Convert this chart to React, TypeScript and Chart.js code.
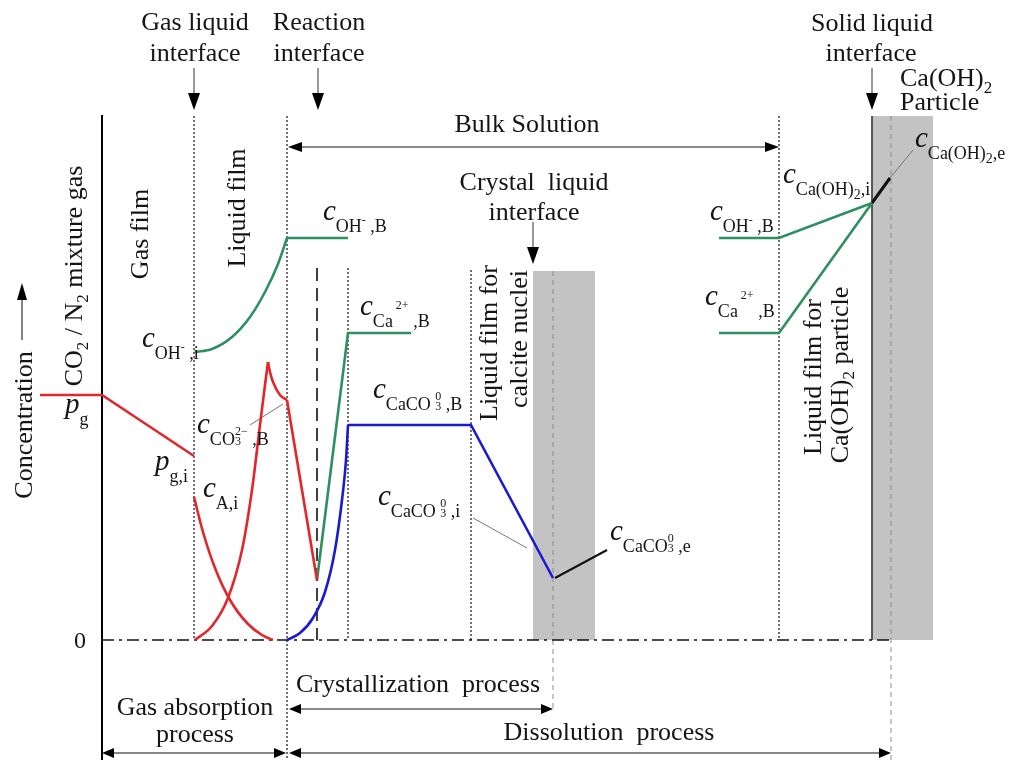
import React, { useEffect, useRef } from 'react';
import { Chart, registerables } from 'chart.js';

Chart.register(...registerables);

const FONT = '"Liberation Serif", "Times New Roman", Times, serif';
const RED = '#e3262b';
const GREEN = '#2f8f60';
const BLUE = '#1a1ad2';
const INK = '#151515';

// x: position across the films (px-like units), y: concentration level above the zero line
const gasPartialPressure = [{ x: 40, y: 245 }, { x: 102, y: 245 }, { x: 194, y: 184 }];
const cAInterface = [{ x: 194, y: 143 }, { x: 203, y: 108 }, { x: 215, y: 72 }, { x: 230, y: 40 }, { x: 248, y: 16 }, { x: 262, y: 5 }, { x: 273, y: 0 }];
const cCO3Rise = [{ x: 195, y: 0 }, { x: 212, y: 14 }, { x: 228, y: 42 }, { x: 242, y: 90 }, { x: 252, y: 150 }, { x: 260, y: 215 }, { x: 265, y: 255 }, { x: 268, y: 278 }];
const cCO3Cusp = [{ x: 268, y: 278 }, { x: 270, y: 268 }, { x: 273, y: 258 }, { x: 280, y: 245 }, { x: 287, y: 240 }];
const cCO3Drop = [{ x: 287, y: 240 }, { x: 317, y: 60 }];

const cOHLiquidFilm = [{ x: 195, y: 288 }, { x: 212, y: 291 }, { x: 232, y: 303 }, { x: 250, y: 323 }, { x: 265, y: 348 }, { x: 278, y: 376 }, { x: 287, y: 402 }];
const cOHBulkLeft = [{ x: 287, y: 402 }, { x: 348, y: 402 }];
const cCaRise = [{ x: 317, y: 60 }, { x: 348, y: 307 }, { x: 411, y: 307 }];
const cOHBulkRight = [{ x: 719, y: 402 }, { x: 779, y: 402 }, { x: 872, y: 437 }];
const cCaBulkRight = [{ x: 719, y: 307 }, { x: 779, y: 307 }, { x: 872, y: 437 }];

const cCaCO3Rise = [{ x: 287, y: 0 }, { x: 300, y: 7 }, { x: 313, y: 22 }, { x: 325, y: 48 }, { x: 335, y: 90 }, { x: 342, y: 140 }, { x: 346, y: 180 }, { x: 348, y: 215 }];
const cCaCO3Bulk = [{ x: 348, y: 215 }, { x: 471, y: 215 }, { x: 553, y: 62 }];

const leaderCaCO3e = [{ x: 555, y: 62 }, { x: 607, y: 90 }];
const leaderCaOH = [{ x: 872, y: 437 }, { x: 890, y: 462 }];
const thinLeaders = [
  [{ x: 890, y: 462 }, { x: 913, y: 490 }],
  [{ x: 473, y: 122 }, { x: 527, y: 92 }],
  [{ x: 250, y: 215 }, { x: 283, y: 236 }],
];

const crystalRect = [{ x: 533, y: 369 }, { x: 595, y: 369 }];
const particleRect = [{ x: 872, y: 524 }, { x: 933, y: 524 }];
const zeroLine = [{ x: 102, y: 0 }, { x: 891, y: 0 }];

const verticals = [
  { x: 102, top: 525, bottom: -120, kind: 'solid' },
  { x: 194, top: 524, bottom: 0, kind: 'dot' },
  { x: 287, top: 524, bottom: -120, kind: 'dot' },
  { x: 317, top: 372, bottom: 0, kind: 'dash' },
  { x: 348, top: 372, bottom: 0, kind: 'dot' },
  { x: 471, top: 370, bottom: 0, kind: 'dot' },
  { x: 779, top: 524, bottom: 0, kind: 'dot' },
  { x: 872, top: 524, bottom: 0, kind: 'thin' },
  { x: 553, top: 369, bottom: -68, kind: 'grey' },
  { x: 891, top: 524, bottom: -120, kind: 'grey' },
];

const arrows = [
  { x1: 194, y1: 572, x2: 194, y2: 530, both: false, len: 17, half: 6, color: '#555' },
  { x1: 318, y1: 572, x2: 318, y2: 530, both: false, len: 17, half: 6, color: '#555' },
  { x1: 872, y1: 572, x2: 872, y2: 530, both: false, len: 17, half: 6, color: '#555' },
  { x1: 533, y1: 418, x2: 533, y2: 376, both: false, len: 17, half: 6, color: '#555' },
  { x1: 22, y1: 300, x2: 22, y2: 357, both: false, len: 17, half: 5, color: '#333' },
  { x1: 288, y1: 493, x2: 779, y2: 493, both: true, len: 14, half: 5, color: '#111' },
  { x1: 289, y1: -69, x2: 553, y2: -69, both: true, len: 12, half: 5, color: '#111' },
  { x1: 102, y1: -113, x2: 286, y2: -113, both: true, len: 12, half: 5, color: '#111' },
  { x1: 289, y1: -113, x2: 891, y2: -113, both: true, len: 12, half: 5, color: '#111' },
];

type Run = { t: string; size: number; italic?: boolean; dy: number; top?: string; dyTop?: number };
const N = (t: string, size = 26): Run => ({ t, size, dy: 0 });
const L = (t: string): Run => ({ t, size: 17, dy: 6 });
const C = (t = 'c'): Run => ({ t, size: 29, italic: true, dy: 0 });
const S = (t: string): Run => ({ t, size: 18, dy: 12 });
const U = (t: string, dy: number): Run => ({ t, size: 12, dy });
const K = (top: string, bot: string): Run => ({ t: bot, top, size: 12, dy: 12, dyTop: 2 });
const SS = (t: string): Run => ({ t, size: 14, dy: 16 });

const titleTexts = [
  { x: 195, y: 610, runs: [N('Gas liquid')] },
  { x: 195, y: 579, runs: [N('interface')] },
  { x: 319, y: 610, runs: [N('Reaction')] },
  { x: 319, y: 579, runs: [N('interface')] },
  { x: 872, y: 609, runs: [N('Solid liquid')] },
  { x: 871, y: 579, runs: [N('interface')] },
  { x: 527, y: 508, runs: [N('Bulk Solution')] },
  { x: 534, y: 450, runs: [N('Crystal  liquid')] },
  { x: 534, y: 420, runs: [N('interface')] },
  { x: 418, y: -52, runs: [N('Crystallization  process')] },
  { x: 195, y: -75, runs: [N('Gas absorption')] },
  { x: 195, y: -102, runs: [N('process')] },
  { x: 609, y: -100, runs: [N('Dissolution  process')] },
  { x: 80, y: -8, runs: [N('0', 24)] },
];
const leftTexts = [
  { x: 900, y: 554, runs: [N('Ca(OH)'), { t: '2', size: 17, dy: 7 }] },
  { x: 900, y: 530, runs: [N('Particle')] },
  { x: 142, y: 293, runs: [C(), S('OH'), U('-', 4), S(' ,i')] },
  { x: 323, y: 420, runs: [C(), S('OH'), U('-', 4), S(' ,B')] },
  { x: 360, y: 325, runs: [C(), S('Ca'), U(' 2+', -6), S(' ,B')] },
  { x: 373, y: 242, runs: [C(), S('CaCO '), K('0', '3'), S(' ,B')] },
  { x: 197, y: 207, runs: [C(), S('CO'), K('2−', '3'), S(' ,B')] },
  { x: 65, y: 227, runs: [C('p'), S('g')] },
  { x: 155, y: 170, runs: [C('p'), S('g,i')] },
  { x: 203, y: 143, runs: [C(), S('A,i')] },
  { x: 378, y: 135, runs: [C(), S('CaCO '), K('0', '3'), S(' ,i')] },
  { x: 610, y: 100, runs: [C(), S('CaCO'), K('0', '3'), S(' ,e')] },
  { x: 710, y: 420, runs: [C(), S('OH'), U('-', 4), S(' ,B')] },
  { x: 705, y: 335, runs: [C(), S('Ca'), U(' 2+', -6), S(' ,B')] },
  { x: 783, y: 457, runs: [C(), S('Ca(OH)'), SS('2'), S(',i')] },
  { x: 915, y: 493, runs: [C(), S('Ca(OH)'), SS('2'), S(',e')] },
];
// rotated labels: x = baseline position, y = centre along the text
const rotatedTexts = [
  { x: 32, y: 215, runs: [N('Concentration')] },
  { x: 82, y: 364, runs: [N('CO'), L('2'), N(' / N'), L('2'), N(' mixture gas')] },
  { x: 148, y: 406, runs: [N('Gas film')] },
  { x: 245, y: 432, runs: [N('Liquid film')] },
  { x: 497, y: 297, runs: [N('Liquid film for')] },
  { x: 527, y: 301, runs: [N('calcite nuclei')] },
  { x: 821, y: 263, runs: [N('Liquid film for')] },
  { x: 848, y: 265, runs: [N('Ca(OH)'), L('2'), N(' particle')] },
];

const fontOf = (r: Run, size?: number) => `${r.italic ? 'italic ' : ''}${size ?? r.size}px ${FONT}`;

function runsWidth(ctx: CanvasRenderingContext2D, runs: Run[]) {
  let w = 0;
  for (const r of runs) {
    ctx.font = fontOf(r);
    let rw = ctx.measureText(r.t).width;
    if (r.top) rw = Math.max(rw, ctx.measureText(r.top).width);
    w += rw;
  }
  return w;
}

function drawRuns(ctx: CanvasRenderingContext2D, runs: Run[], x: number, y: number, align: 'left' | 'center') {
  let cx = align === 'center' ? x - runsWidth(ctx, runs) / 2 : x;
  ctx.textAlign = 'left';
  ctx.textBaseline = 'alphabetic';
  for (const r of runs) {
    ctx.font = fontOf(r);
    let rw = ctx.measureText(r.t).width;
    ctx.fillText(r.t, cx, y + r.dy);
    if (r.top) {
      rw = Math.max(rw, ctx.measureText(r.top).width);
      ctx.fillText(r.top, cx, y + (r.dyTop ?? 0));
    }
    cx += rw;
  }
}

function head(ctx: CanvasRenderingContext2D, tx: number, ty: number, dx: number, dy: number, len: number, half: number) {
  ctx.beginPath();
  ctx.moveTo(tx, ty);
  ctx.lineTo(tx - dx * len - dy * half, ty - dy * len + dx * half);
  ctx.lineTo(tx - dx * len + dy * half, ty - dy * len - dx * half);
  ctx.closePath();
  ctx.fill();
}

const overlay = {
  id: 'overlay',
  afterDatasetsDraw(chart: any) {
    const ctx: CanvasRenderingContext2D = chart.ctx;
    const xs = chart.scales.x;
    const ys = chart.scales.y;
    const px = (v: number) => xs.getPixelForValue(v);
    const py = (v: number) => ys.getPixelForValue(v);
    ctx.save();
    for (const a of arrows) {
      const x1 = px(a.x1), y1 = py(a.y1), x2 = px(a.x2), y2 = py(a.y2);
      const d = Math.hypot(x2 - x1, y2 - y1);
      const ux = (x2 - x1) / d, uy = (y2 - y1) / d;
      ctx.strokeStyle = a.color;
      ctx.lineWidth = 1.2;
      ctx.beginPath();
      ctx.moveTo(x1 + (a.both ? ux * a.len * 0.8 : 0), y1 + (a.both ? uy * a.len * 0.8 : 0));
      ctx.lineTo(x2 - ux * a.len * 0.8, y2 - uy * a.len * 0.8);
      ctx.stroke();
      ctx.fillStyle = '#000';
      head(ctx, x2, y2, ux, uy, a.len, a.half);
      if (a.both) head(ctx, x1, y1, -ux, -uy, a.len, a.half);
    }
    ctx.fillStyle = INK;
    for (const t of titleTexts) drawRuns(ctx, t.runs, px(t.x), py(t.y), 'center');
    for (const t of leftTexts) drawRuns(ctx, t.runs, px(t.x), py(t.y), 'left');
    for (const t of rotatedTexts) {
      ctx.save();
      ctx.translate(px(t.x), py(t.y));
      ctx.rotate(-Math.PI / 2);
      drawRuns(ctx, t.runs, 0, 0, 'center');
      ctx.restore();
    }
    ctx.restore();
  },
};

const styleOf: Record<string, any> = {
  solid: { borderColor: '#000', borderWidth: 2, borderDash: [] },
  dot: { borderColor: '#222', borderWidth: 1.3, borderDash: [2, 2] },
  dash: { borderColor: '#111', borderWidth: 1.6, borderDash: [13, 7] },
  thin: { borderColor: '#444', borderWidth: 1, borderDash: [] },
  grey: { borderColor: '#8c8c8c', borderWidth: 1, borderDash: [5, 4] },
};

function seg(data: any[], color: string, width: number, extra: any = {}) {
  return { data, borderColor: color, borderWidth: width, pointRadius: 0, showLine: true, fill: false, tension: 0, ...extra };
}
const curve = (data: any[], color: string) => seg(data, color, 2.6, { cubicInterpolationMode: 'monotone' });

export default function App() {
  const ref = useRef<HTMLCanvasElement | null>(null);
  useEffect(() => {
    if (!ref.current) return;
    const datasets: any[] = [
      seg(crystalRect, 'rgba(0,0,0,0)', 0, { fill: 'origin', backgroundColor: '#c3c3c3', order: 10 }),
      seg(particleRect, 'rgba(0,0,0,0)', 0, { fill: 'origin', backgroundColor: '#c3c3c3', order: 10 }),
      ...verticals.map((v) => seg([{ x: v.x, y: v.top }, { x: v.x, y: v.bottom }], styleOf[v.kind].borderColor, styleOf[v.kind].borderWidth, { borderDash: styleOf[v.kind].borderDash, order: 5 })),
      seg(zeroLine, '#111', 1.5, { borderDash: [12, 5, 3, 5], order: 4 }),
      seg(gasPartialPressure, RED, 2.6),
      curve(cAInterface, RED),
      curve(cCO3Rise, RED),
      curve(cCO3Cusp, RED),
      seg(cCO3Drop, RED, 2.6),
      curve(cOHLiquidFilm, GREEN),
      seg(cOHBulkLeft, GREEN, 2.6),
      seg(cCaRise, GREEN, 2.6),
      seg(cOHBulkRight, GREEN, 2.6),
      seg(cCaBulkRight, GREEN, 2.6),
      curve(cCaCO3Rise, BLUE),
      seg(cCaCO3Bulk, BLUE, 2.6),
      seg(leaderCaCO3e, '#111', 2),
      seg(leaderCaOH, '#111', 3),
      ...thinLeaders.map((d) => seg(d, '#777', 1)),
    ];
    const chart = new Chart(ref.current, {
      type: 'scatter',
      data: { datasets },
      options: {
        responsive: false,
        animation: false,
        events: [],
        layout: { padding: 0 },
        plugins: { legend: { display: false }, tooltip: { enabled: false } },
        scales: {
          x: { type: 'linear', min: 0, max: 1013, display: false },
          y: { type: 'linear', min: -120, max: 640, display: false },
        },
      },
      plugins: [overlay],
    } as any);
    return () => chart.destroy();
  }, []);
  return (
    <div style={{ position: 'absolute', left: 0, top: 0, width: 1013, height: 760, background: '#fff' }}>
      <canvas ref={ref} width={1013} height={760} style={{ display: 'block' }} />
    </div>
  );
}
